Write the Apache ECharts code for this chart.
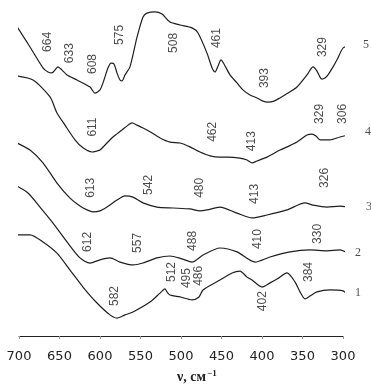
<!DOCTYPE html>
<html><head><meta charset="utf-8">
<script src="https://cdn.jsdelivr.net/npm/echarts@6/dist/echarts.min.js"></script>
<style>html,body{margin:0;padding:0;background:#fff}#c{width:371px;height:385px}</style>
</head><body><div id="c"></div>
<script>
// x ticks
const xTicks = [700, 650, 600, 550, 500, 450, 400, 350, 300];

// Curve 5 (top)
const nu5 = [703.7,686.4,670.4,664.2,659.3,655.6,651.9,646.9,640.7,628.4,612.3,606.2,600.0,596.3,590.1,586.4,582.7,579.0,575.3,572.8,569.1,563.0,554.3,546.9,542.0,532.1,523.5,513.6,501.2,486.4,479.0,467.9,461.7,458.0,454.3,450.6,446.9,439.5,430.9,423.5,414.8,406.2,398.8,392.6,385.2,377.8,365.4,356.8,344.4,337.0,332.1,328.4,326.0,322.2,318.5,312.3,307.4,300.0,293.8];
const T5  = [97.2,90.3,83.8,82.5,82.2,83.1,84.1,83.1,81.6,80.0,77.8,75.9,76.9,79.1,83.8,85.3,85.0,82.2,80.0,79.7,81.6,84.1,93.4,99.7,100.9,101.3,100.6,98.1,97.2,96.3,94.7,88.4,83.8,82.5,84.4,86.3,85.0,81.6,79.1,76.9,75.3,74.4,73.4,73.1,73.4,74.4,76.3,77.8,81.6,84.1,82.8,80.9,80.3,80.6,81.6,84.1,86.3,90.0,90.6];

// Curve 4
const nu4 = [703.7,682.7,661.7,653.1,643.2,630.9,621.0,609.9,603.7,600.0,592.6,584.0,572.8,565.4,560.5,554.3,546.9,538.3,525.9,513.6,501.2,488.9,476.5,464.2,451.9,443.2,427.2,418.5,412.3,406.2,393.8,377.8,369.1,356.8,344.4,338.3,333.3,328.4,316.0,303.7,293.8];
const T4  = [81.3,80.0,74.7,69.7,65.9,61.3,58.8,57.5,57.8,58.1,60.0,62.2,64.4,65.9,66.6,65.9,65.0,63.8,61.9,60.6,60.3,59.1,57.5,56.3,55.9,55.9,55.6,55.0,54.1,54.7,55.9,58.1,59.1,60.6,62.8,63.1,62.5,61.3,61.3,62.2,62.8];

// Curve 3
const nu3 = [704.9,686.4,670.4,653.1,637.0,624.7,616.0,608.6,600.0,591.4,579.0,569.1,559.3,546.9,529.6,509.9,488.9,476.5,467.9,451.9,430.9,412.3,393.8,369.1,346.9,337.0,319.8,303.7,293.8];
const T3  = [60.6,58.1,54.1,47.8,43.1,40.6,39.4,38.8,39.1,40.3,42.5,43.8,43.4,41.6,40.3,40.0,39.7,39.1,39.4,40.3,38.4,36.9,37.8,39.4,41.6,40.9,40.3,40.6,40.3];

// Curve 2
const nu2 = [704.9,688.9,674.1,658.0,640.7,624.7,612.3,600.0,587.7,575.3,559.3,546.9,529.6,513.6,498.8,486.4,472.8,451.9,430.9,408.6,390.1,365.4,340.7,319.8,303.7,293.8];
const T2  = [47.2,44.7,40.3,35.3,29.4,24.4,22.8,23.8,24.4,23.1,22.2,22.8,24.4,25.0,24.1,23.1,25.3,27.5,26.3,23.1,24.7,26.3,26.9,26.6,26.9,25.9];

// Curve 1 (bottom)
const nu1 = [704.9,686.4,670.4,653.1,637.0,621.0,603.7,587.7,579.0,569.1,559.3,538.3,525.9,519.8,517.3,513.6,501.2,486.4,477.8,472.8,451.9,437.0,427.2,418.5,412.3,400.0,390.1,381.5,369.1,359.3,353.1,346.9,340.7,332.1,316.0,300.0,295.1];
const T1  = [31.6,31.6,29.4,25.9,20.6,15.3,10.3,6.6,5.6,6.6,7.5,10.6,13.4,14.7,13.8,12.8,12.2,11.3,12.2,14.4,17.5,19.7,20.3,18.4,17.5,15.3,16.6,17.8,19.7,16.9,13.8,11.6,12.5,13.8,14.4,14.1,13.1];

// Peak labels: text, position (wavenumber, value)
const peakText = ['664','633','608','575','508','461','393','329',
                  '611','462','413','329','306',
                  '613','542','480','413','326',
                  '612','557','488','410','330',
                  '582','512','495','486','402','384'];
const peakNu = [664.2,637.0,608.6,575.3,508.6,455.6,396.3,324.7,
                608.6,460.5,412.3,328.4,300.0,
                611.1,539.5,476.5,408.6,322.2,
                614.8,553.1,485.2,404.9,330.9,
                581.5,511.1,492.6,477.8,398.8,342.0];
const peakT = [91.9,88.4,85.0,94.1,91.6,93.1,80.6,90.3,
               65.3,63.8,60.9,69.4,69.4,
               46.3,47.2,46.3,44.4,49.4,
               29.4,29.1,29.7,30.3,31.9,
               12.5,20.0,18.1,18.8,10.9,20.0];

// Curve numbers
const curveNames = ['5','4','3','2','1'];
const curveNameNu = [271.6,269.1,267.9,281.5,281.5];
const curveNameT = [90.9,63.8,40.3,25.9,13.4];

const curves = [[nu5,T5],[nu4,T4],[nu3,T3],[nu2,T2],[nu1,T1]];

const chart = echarts.init(document.getElementById('c'), null, {renderer:'canvas'});
const series = curves.map(([nu,T]) => ({
  type:'line',
  data: nu.map((v,i)=>[v,T[i]]),
  showSymbol:false,
  smooth:0.25,
  clip:false,
  silent:true,
  animation:false,
  lineStyle:{color:'#1e1e1e', width:1.2}
}));
series.push({
  type:'scatter',
  clip:false,
  animation:false,
  silent:true,
  symbolSize:1,
  itemStyle:{color:'rgba(0,0,0,0)'},
  data: peakText.map((t,i)=>[peakNu[i], peakT[i], t]),
  label:{show:true, position:'inside', rotate:90, formatter:p=>p.value[2],
    color:'#1a1a1a', fontFamily:'Liberation Sans', fontSize:12}
});
series.push({
  type:'scatter',
  clip:false,
  animation:false,
  silent:true,
  symbolSize:1,
  itemStyle:{color:'rgba(0,0,0,0)'},
  data: curveNames.map((t,i)=>[curveNameNu[i], curveNameT[i], t]),
  label:{show:true, position:'inside', formatter:p=>p.value[2],
    color:'#1a1a1a', fontFamily:'Liberation Serif', fontSize:12}
});

chart.setOption({
  animation:false,
  backgroundColor:'#fff',
  grid:{left:19, right:28, top:0, bottom:49},
  xAxis:{
    type:'value', min:300, max:700, interval:50, inverse:true,
    axisLine:{show:true, lineStyle:{color:'#222', width:1}},
    axisTick:{show:true, length:3, lineStyle:{color:'#999'}},
    axisLabel:{margin:14, color:'#222', fontFamily:'DejaVu Sans', fontSize:13,
      customValues: xTicks},
    splitLine:{show:false}
  },
  yAxis:{type:'value', min:0, max:105, show:false},
  graphic:[{
    type:'text', left:177, top:369,
    style:{
      text:'{a|ν, см}{b|−1}',
      rich:{
        a:{fontFamily:'Liberation Serif', fontWeight:'bold', fontSize:14, fill:'#222'},
        b:{fontFamily:'Liberation Serif', fontWeight:'bold', fontSize:9, fill:'#222', verticalAlign:'top', padding:[0,0,8,1]}
      }
    }
  }],
  series
});
</script></body></html>
